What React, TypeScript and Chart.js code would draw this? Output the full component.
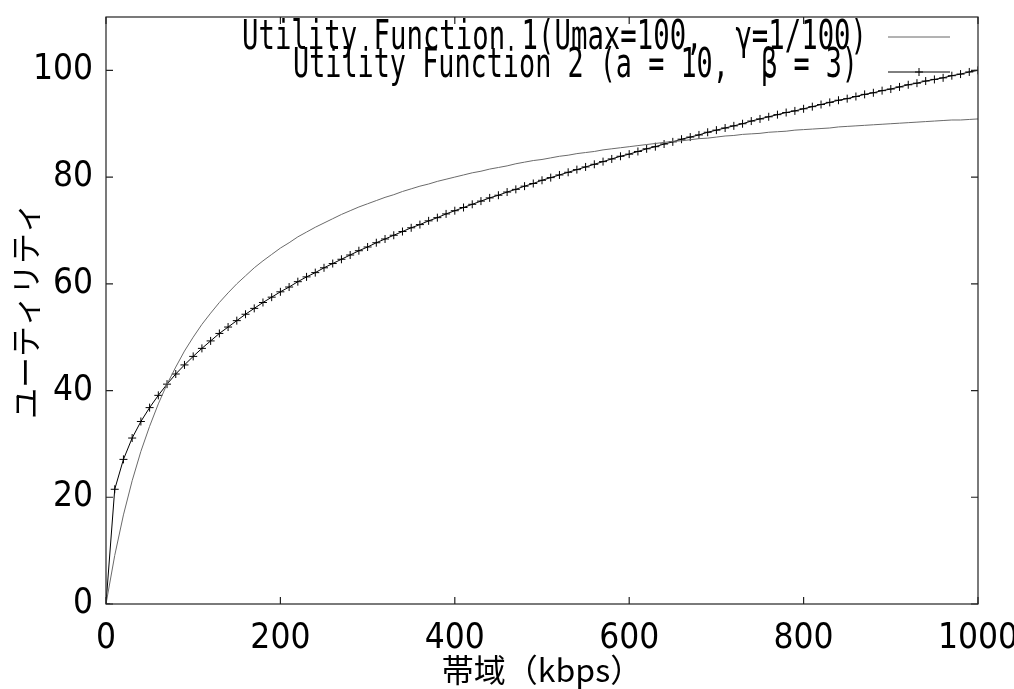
import { useEffect, useRef } from 'react';
import { Chart, registerables } from 'chart.js';

Chart.register(...registerables);

// Bandwidth samples (kbps)
const bandwidth = [
  0, 10, 20, 30, 40, 50, 60, 70, 80, 90,
  100, 110, 120, 130, 140, 150, 160, 170, 180, 190,
  200, 210, 220, 230, 240, 250, 260, 270, 280, 290,
  300, 310, 320, 330, 340, 350, 360, 370, 380, 390,
  400, 410, 420, 430, 440, 450, 460, 470, 480, 490,
  500, 510, 520, 530, 540, 550, 560, 570, 580, 590,
  600, 610, 620, 630, 640, 650, 660, 670, 680, 690,
  700, 710, 720, 730, 740, 750, 760, 770, 780, 790,
  800, 810, 820, 830, 840, 850, 860, 870, 880, 890,
  900, 910, 920, 930, 940, 950, 960, 970, 980, 990,
  1000,
];

// Utility Function 1 (Umax=100, γ=1/100)
const utility1 = [
  0, 9.1, 16.7, 23.1, 28.6, 33.3, 37.5, 41.2, 44.4, 47.4,
  50.0, 52.4, 54.5, 56.5, 58.3, 60.0, 61.5, 63.0, 64.3, 65.5,
  66.7, 67.7, 68.8, 69.7, 70.6, 71.4, 72.2, 73.0, 73.7, 74.4,
  75.0, 75.6, 76.2, 76.7, 77.3, 77.8, 78.3, 78.7, 79.2, 79.6,
  80.0, 80.4, 80.8, 81.1, 81.5, 81.8, 82.1, 82.5, 82.8, 83.1,
  83.3, 83.6, 83.9, 84.1, 84.4, 84.6, 84.8, 85.1, 85.3, 85.5,
  85.7, 85.9, 86.1, 86.3, 86.5, 86.7, 86.8, 87.0, 87.2, 87.3,
  87.5, 87.7, 87.8, 88.0, 88.1, 88.2, 88.4, 88.5, 88.6, 88.8,
  88.9, 89.0, 89.1, 89.2, 89.4, 89.5, 89.6, 89.7, 89.8, 89.9,
  90.0, 90.1, 90.2, 90.3, 90.4, 90.5, 90.6, 90.7, 90.7, 90.8,
  90.9,
];

// Utility Function 2 (a = 10, β = 3)
const utility2 = [
  0, 21.5, 27.1, 31.1, 34.2, 36.8, 39.1, 41.2, 43.1, 44.8,
  46.4, 47.9, 49.3, 50.7, 51.9, 53.1, 54.3, 55.4, 56.5, 57.5,
  58.5, 59.4, 60.4, 61.3, 62.1, 63.0, 63.8, 64.6, 65.4, 66.2,
  66.9, 67.7, 68.4, 69.1, 69.8, 70.5, 71.1, 71.8, 72.4, 73.1,
  73.7, 74.3, 74.9, 75.5, 76.1, 76.6, 77.2, 77.7, 78.3, 78.8,
  79.4, 79.9, 80.4, 80.9, 81.4, 81.9, 82.4, 82.9, 83.4, 83.9,
  84.3, 84.8, 85.3, 85.7, 86.2, 86.6, 87.1, 87.5, 87.9, 88.4,
  88.8, 89.2, 89.6, 90.0, 90.5, 90.9, 91.3, 91.7, 92.1, 92.4,
  92.8, 93.2, 93.6, 94.0, 94.4, 94.7, 95.1, 95.5, 95.8, 96.2,
  96.5, 96.9, 97.3, 97.6, 98.0, 98.3, 98.6, 99.0, 99.3, 99.7,
  100.0,
];

const xTicks = [0, 200, 400, 600, 800, 1000];
const yTicks = [0, 20, 40, 60, 80, 100];
const xRange = [0, 1000];
const yRange = [0, 110];

const seriesLabels = [
  'Utility Function 1(Umax=100,  γ=1/100)',
  'Utility Function 2 (a = 10,  β = 3)',
];
const xTitle = '帯域（kbps）';
const yTitle = 'ユーティリティ';

const TICK_FONT = '"Liberation Sans Narrow", "DejaVu Sans Condensed", "Liberation Sans", sans-serif';
const CJK_FONT = '"Noto Sans CJK JP", "Noto Sans", sans-serif';

// Frame around the plot with inward ticks on all four sides
const framePlugin = {
  id: 'frameTicks',
  afterDatasetsDraw(chart: any) {
    const { ctx, chartArea: a, scales } = chart;
    const len = 7;
    ctx.save();
    ctx.strokeStyle = '#222';
    ctx.lineWidth = 1.2;
    ctx.strokeRect(a.left, a.top, a.right - a.left, a.bottom - a.top);
    ctx.beginPath();
    for (const v of xTicks) {
      const px = scales.x.getPixelForValue(v);
      ctx.moveTo(px, a.bottom);
      ctx.lineTo(px, a.bottom - len);
      ctx.moveTo(px, a.top);
      ctx.lineTo(px, a.top + len);
    }
    for (const v of yTicks) {
      const py = scales.y.getPixelForValue(v);
      ctx.moveTo(a.left, py);
      ctx.lineTo(a.left + len, py);
      ctx.moveTo(a.right, py);
      ctx.lineTo(a.right - len, py);
    }
    ctx.stroke();
    ctx.restore();
  },
};

// Key in the upper right of the plot: right-justified text, sample to the right
const keyPlugin = {
  id: 'cornerKey',
  afterDraw(chart: any) {
    const { ctx, chartArea: a } = chart;
    const rows = [
      { text: seriesLabels[0], left: 242, right: a.right - 111, base: 49, sampleY: 37, marker: false, color: '#666' },
      { text: seriesLabels[1], left: 293, right: a.right - 120, base: 77, sampleY: 72, marker: true, color: '#000' },
    ];
    ctx.save();
    ctx.fillStyle = '#000';
    ctx.font = '40px "DejaVu Sans Mono", "Liberation Mono", monospace';
    ctx.textBaseline = 'alphabetic';
    ctx.textAlign = 'left';
    for (const r of rows) {
      const w = ctx.measureText(r.text).width;
      ctx.save();
      ctx.translate(r.left, r.base);
      ctx.scale((r.right - r.left) / w, 1);
      ctx.fillText(r.text, 0, 0);
      ctx.restore();
      const x0 = a.right - 90;
      const x1 = a.right - 28;
      ctx.strokeStyle = r.color;
      ctx.lineWidth = 1;
      ctx.beginPath();
      ctx.moveTo(x0, r.sampleY);
      ctx.lineTo(x1, r.sampleY);
      if (r.marker) {
        const cx = (x0 + x1) / 2;
        ctx.moveTo(cx - 4, r.sampleY);
        ctx.lineTo(cx + 4, r.sampleY);
        ctx.moveTo(cx, r.sampleY - 4);
        ctx.lineTo(cx, r.sampleY + 4);
      }
      ctx.stroke();
    }
    ctx.restore();
  },
};

export default function App() {
  const canvasRef = useRef<HTMLCanvasElement | null>(null);

  useEffect(() => {
    document.body.style.margin = '0';
    const canvas = canvasRef.current;
    if (!canvas) return;

    const chart = new Chart(canvas, {
      type: 'line',
      data: {
        datasets: [
          {
            label: seriesLabels[0],
            data: bandwidth.map((x, i) => ({ x, y: utility1[i] })),
            borderColor: '#6a6a6a',
            borderWidth: 1,
            pointRadius: 0,
            fill: false,
            tension: 0,
          },
          {
            label: seriesLabels[1],
            data: bandwidth.map((x, i) => ({ x, y: utility2[i] })),
            borderColor: '#000',
            borderWidth: 1,
            pointStyle: 'cross',
            pointRadius: 4,
            pointBorderWidth: 1,
            pointBorderColor: '#000',
            pointBackgroundColor: '#000',
            fill: false,
            tension: 0,
          },
        ],
      },
      options: {
        responsive: false,
        animation: false,
        devicePixelRatio: 1,
        layout: { padding: { top: 17, right: 36, left: 0, bottom: 0 } },
        plugins: {
          legend: { display: false },
          tooltip: { enabled: false },
        },
        scales: {
          x: {
            type: 'linear',
            min: xRange[0],
            max: xRange[1],
            afterBuildTicks: (scale: any) => {
              scale.ticks = xTicks.map((v) => ({ value: v }));
            },
            afterFit: (scale: any) => {
              scale.height = 85;
              scale.paddingLeft = 0;
              scale.paddingRight = 0;
            },
            grid: { display: false, drawTicks: false },
            border: { display: false },
            ticks: {
              color: '#000',
              padding: 14,
              maxRotation: 0,
              callback: (v: any) => String(v),
              font: { family: TICK_FONT, size: 35 },
            },
            title: {
              display: true,
              text: xTitle,
              color: '#000',
              padding: { top: 0, bottom: 0 },
              font: { family: CJK_FONT, size: 32 },
            },
          },
          y: {
            type: 'linear',
            min: yRange[0],
            max: yRange[1],
            afterBuildTicks: (scale: any) => {
              scale.ticks = yTicks.map((v) => ({ value: v }));
            },
            afterFit: (scale: any) => {
              scale.width = 106;
              scale.paddingTop = 0;
              scale.paddingBottom = 0;
            },
            grid: { display: false, drawTicks: false },
            border: { display: false },
            ticks: {
              color: '#000',
              padding: 13,
              callback: (v: any) => String(v),
              font: { family: TICK_FONT, size: 35 },
            },
            title: {
              display: true,
              text: yTitle,
              color: '#000',
              padding: { top: 7, bottom: 0 },
              font: { family: CJK_FONT, size: 31 },
            },
          },
        },
      },
      plugins: [framePlugin, keyPlugin],
    } as any);

    return () => chart.destroy();
  }, []);

  return (
    <div style={{ width: 1014, height: 689, background: '#fff' }}>
      <canvas ref={canvasRef} width={1014} height={689} style={{ display: 'block' }} />
    </div>
  );
}
